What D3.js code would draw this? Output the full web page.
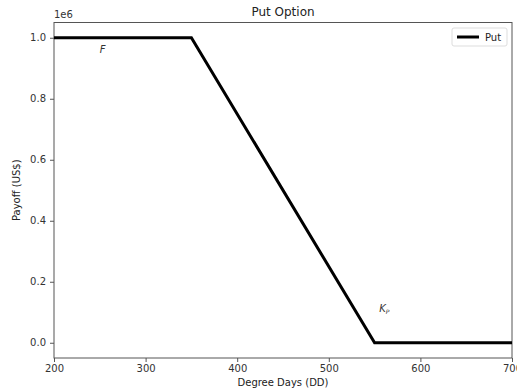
<!DOCTYPE html>
<html>
<head>
<meta charset="utf-8">
<script src="https://cdn.jsdelivr.net/npm/d3@7"></script>
<style>
  body { margin: 0; background: #fff; }
  text { font-family: "DejaVu Sans", sans-serif; }
</style>
</head>
<body>
<div id="chart"></div>
<script>
// payoff of the put, knots of the piecewise line
const degreeDays = [200, 350, 550, 700];
const payoff = [1e6, 1e6, 0, 0];
const xTicks = [200, 300, 400, 500, 600, 700];
const yTicks = [0, 0.2e6, 0.4e6, 0.6e6, 0.8e6, 1.0e6];
const notes = [
  { x: 250, y: 0.95e6, label: "F" },
  { x: 555, y: 0.1e6, label: "K", sub: "P" }
];

const width = 517, height = 392;
const margin = { top: 22.5, right: 5, bottom: 34, left: 54 };

const svg = d3.select("#chart").append("svg")
  .attr("width", width)
  .attr("height", height);

const x = d3.scaleLinear()
  .domain([200, 700])
  .range([margin.left, width - margin.right]);

const y = d3.scaleLinear()
  .domain([-0.05e6, 1.05e6])
  .range([height - margin.bottom, margin.top]);

const axisColor = "#555";
const textColor = "#333";

// x axis
const gx = svg.append("g")
  .attr("transform", "translate(0," + (height - margin.bottom) + ")")
  .call(d3.axisBottom(x).tickValues(xTicks).tickSize(4).tickPadding(3).tickFormat(d3.format("d")));

// y axis
const gy = svg.append("g")
  .attr("transform", "translate(" + margin.left + ",0)")
  .call(d3.axisLeft(y).tickValues(yTicks).tickSize(4).tickPadding(4).tickFormat(d => (d / 1e6).toFixed(1)));

[gx, gy].forEach(g => {
  g.select(".domain").remove();
  g.selectAll(".tick line").attr("stroke", axisColor);
  g.selectAll(".tick text").attr("fill", textColor).style("font-size", "10px");
});

// frame
svg.append("rect")
  .attr("x", margin.left)
  .attr("y", margin.top)
  .attr("width", width - margin.left - margin.right)
  .attr("height", height - margin.top - margin.bottom)
  .attr("fill", "none")
  .attr("stroke", axisColor)
  .attr("stroke-width", 1);

const clipId = "plot-clip";
svg.append("clipPath").attr("id", clipId)
  .append("rect")
  .attr("x", margin.left)
  .attr("y", margin.top)
  .attr("width", width - margin.left - margin.right)
  .attr("height", height - margin.top - margin.bottom);

const line = d3.line()
  .x((d, i) => x(degreeDays[i]))
  .y(d => y(d));

svg.append("path")
  .datum(payoff)
  .attr("clip-path", "url(#" + clipId + ")")
  .attr("d", line)
  .attr("fill", "none")
  .attr("stroke", "#000")
  .attr("stroke-width", 3);

// annotations
notes.forEach(n => {
  const t = svg.append("text")
    .attr("x", x(n.x))
    .attr("y", y(n.y))
    .attr("fill", textColor)
    .style("font-size", "10px")
    .style("font-style", "italic")
    .text(n.label);
  if (n.sub) {
    t.append("tspan")
      .attr("dy", 2)
      .style("font-size", "6px")
      .text(n.sub);
  }
});

// title
svg.append("text")
  .attr("x", (margin.left + width - margin.right) / 2)
  .attr("y", 16)
  .attr("text-anchor", "middle")
  .attr("fill", "#222")
  .style("font-size", "12px")
  .text("Put Option");

// offset label
svg.append("text")
  .attr("x", margin.left)
  .attr("y", 18)
  .attr("fill", textColor)
  .style("font-size", "10px")
  .text("1e6");

// axis labels
svg.append("text")
  .attr("x", (margin.left + width - margin.right) / 2)
  .attr("y", height - 6)
  .attr("text-anchor", "middle")
  .attr("fill", "#222")
  .style("font-size", "10px")
  .text("Degree Days (DD)");

svg.append("text")
  .attr("transform", "translate(20," + ((margin.top + height - margin.bottom) / 2) + ") rotate(-90)")
  .attr("text-anchor", "middle")
  .attr("fill", "#222")
  .style("font-size", "10px")
  .text("Payoff (US$)");

// legend
const lg = svg.append("g").attr("transform", "translate(452,28)");
lg.append("rect")
  .attr("width", 55)
  .attr("height", 18)
  .attr("rx", 2)
  .attr("fill", "#fff")
  .attr("stroke", "#ddd");
lg.append("line")
  .attr("x1", 5).attr("x2", 27)
  .attr("y1", 9).attr("y2", 9)
  .attr("stroke", "#000")
  .attr("stroke-width", 3);
lg.append("text")
  .attr("x", 33)
  .attr("y", 13)
  .attr("fill", "#222")
  .style("font-size", "10px")
  .text("Put");
</script>
</body>
</html>
